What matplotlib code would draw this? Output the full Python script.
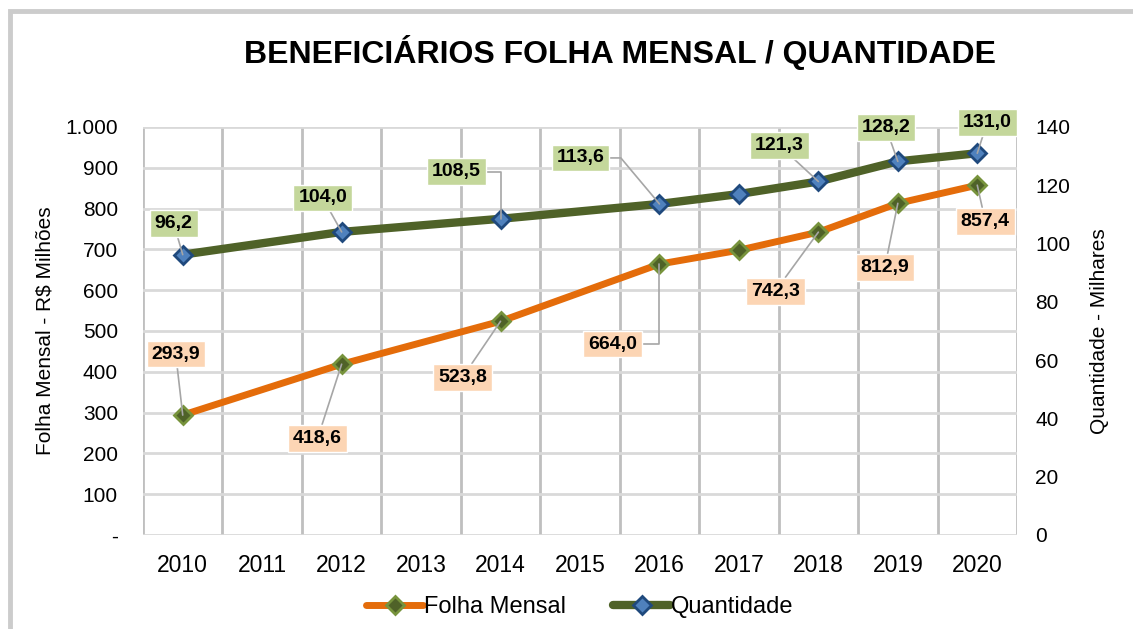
import matplotlib.pyplot as plt
import numpy as np
from matplotlib.patches import Rectangle
from matplotlib.lines import Line2D

plt.rcParams['font.family'] = ['Liberation Sans', 'DejaVu Sans']

# data
years = ['2010', '2011', '2012', '2013', '2014', '2015', '2016', '2017', '2018', '2019', '2020']
folha_years = ['2010', '2012', '2014', '2016', '2017', '2018', '2019', '2020']
folha = [293.9, 418.6, 523.8, 664.0, 698.0, 742.3, 812.9, 857.4]
quant = [96.2, 104.0, 108.5, 113.6, 117.0, 121.3, 128.2, 131.0]
folha_labeled = [True, True, True, True, False, True, True, True]
quant_labeled = [True, True, True, True, False, True, True, True]
left_ticks = [0, 100, 200, 300, 400, 500, 600, 700, 800, 900, 1000]
left_ticklabels = ['-', '100', '200', '300', '400', '500', '600', '700', '800', '900', '1.000']
right_ticks = [0, 20, 40, 60, 80, 100, 120, 140]

# label offsets in pixels (dx, dy) and leader style
folha_off = [(-7, 61), (-24, -74), (-38, -56), (-47, -80), None, (-43, -59), (-13, -64), (8, -36)]
quant_off = [(-9, 31), (-19, 34), (-44, 47), (-79, 46), None, (-39, 36), (-12, 34), (10, 31)]
folha_conn = ['arc3', 'arc3', 'arc3', 'angle,angleA=0,angleB=90,rad=0', None, 'arc3', 'arc3', 'arc3']
quant_conn = ['arc3', 'arc3', 'angle,angleA=0,angleB=90,rad=0', 'angle,angleA=0,angleB=130,rad=0', None,
              'arc3', 'arc3', 'arc3']

ORANGE = '#e46c0a'
OLIVE = '#4f6228'
GREEN_LBL = '#c4d79b'
ORANGE_LBL = '#fcd5b4'

x_pos = [years.index(y) for y in folha_years]

fig = plt.figure(figsize=(11.33, 6.29), dpi=100)
ax = fig.add_axes([143 / 1133, 1 - 535 / 629, (1017 - 143) / 1133, (535 - 127) / 629])
ax2 = ax.twinx()

# outer frame
fig.patches.append(Rectangle((9.5 / 1133, -0.05), 1.2, 1 - 10.5 / 629 + 0.05, transform=fig.transFigure,
                             fill=False, edgecolor='#cccccc', linewidth=3.5, zorder=0))

ax.set_xlim(-0.5, 10.5)
ax.set_ylim(0, 1000)
ax2.set_ylim(0, 140)
ax.set_xticks(range(len(years)))
ax.set_xticklabels(years, fontsize=16.5)
ax.set_xticks(np.arange(-0.5, 11, 1), minor=True)
ax.set_yticks(left_ticks)
ax.set_yticklabels(left_ticklabels, fontsize=15)
ax2.set_yticks(right_ticks)
ax2.set_yticklabels([str(t) for t in right_ticks], fontsize=15)
ax.tick_params(axis='both', which='both', length=0)
ax2.tick_params(axis='both', which='both', length=0)
ax.tick_params(axis='x', pad=14)
ax.tick_params(axis='y', pad=18)
ax2.tick_params(axis='y', pad=13)

ax.grid(axis='y', which='major', color='#d9d9d9', linewidth=2)
ax.grid(axis='x', which='minor', color='#bfbfbf', linewidth=2)
for a in (ax, ax2):
    for s in a.spines.values():
        s.set_visible(False)

ax.plot(x_pos, folha, color=ORANGE, linewidth=5, marker='D', markersize=9.5,
        markerfacecolor=OLIVE, markeredgecolor='#77933c', markeredgewidth=2, zorder=3)
ax2.plot(x_pos, quant, color=OLIVE, linewidth=6, marker='D', markersize=9.5,
         markerfacecolor='#4f81bd', markeredgecolor='#1f497d', markeredgewidth=2, zorder=3)


def fmt(v):
    return f'{v:.1f}'.replace('.', ',')


def add_labels(axis, vals, offs, conns, flags, color):
    for xp, v, off, conn, show in zip(x_pos, vals, offs, conns, flags):
        if not show:
            continue
        axis.annotate(fmt(v), xy=(xp, v), xytext=off, textcoords='offset pixels',
                      ha='center', va='center', fontsize=14, fontweight='bold', zorder=5,
                      bbox=dict(boxstyle='square,pad=0.25', facecolor=color, edgecolor='white', linewidth=1),
                      arrowprops=dict(arrowstyle='-', color='#a6a6a6', linewidth=1.2,
                                      shrinkA=0, shrinkB=0, connectionstyle=conn))


add_labels(ax, folha, folha_off, folha_conn, folha_labeled, ORANGE_LBL)
add_labels(ax2, quant, quant_off, quant_conn, quant_labeled, GREEN_LBL)

ax.set_ylabel('Folha Mensal - R$ Milhões', fontsize=15, labelpad=8)
ax2.set_ylabel('Quantidade - Milhares', fontsize=15, labelpad=14)

fig.text(620 / 1133, 1 - 52 / 629, 'BENEFICIÁRIOS FOLHA MENSAL / QUANTIDADE', ha='center', va='center',
         fontsize=23, fontweight='bold')

handles = [
    Line2D([], [], color=ORANGE, linewidth=5, marker='D', markersize=9.5, markerfacecolor=OLIVE,
           markeredgecolor='#77933c', markeredgewidth=2, solid_capstyle='round'),
    Line2D([], [], color=OLIVE, linewidth=6, marker='D', markersize=9.5, markerfacecolor='#4f81bd',
           markeredgecolor='#1f497d', markeredgewidth=2, solid_capstyle='round'),
]
fig.legend(handles, ['Folha Mensal', 'Quantidade'], loc='center', ncol=2, frameon=False,
           bbox_to_anchor=(580 / 1133, 1 - 607 / 629), fontsize=17, handlelength=2.4,
           handletextpad=0.05, columnspacing=2.0)

plt.savefig('out.png', dpi=100)
plt.close(fig)
